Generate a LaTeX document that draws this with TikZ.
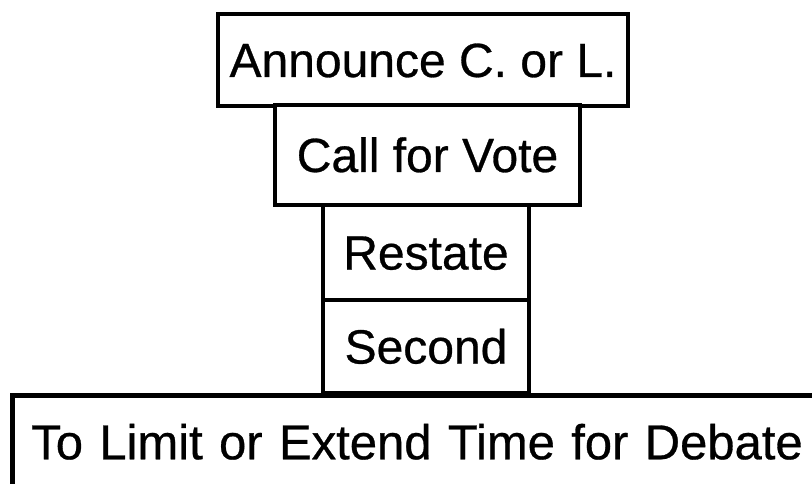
\documentclass[tikz,border=0pt]{standalone}
\usepackage{fontspec}
\setmainfont{Liberation Sans}
\newfontfamily\scanfont{Liberation Sans}[FakeBold=0.6]
\begin{document}
\begin{tikzpicture}[x=1pt,y=-1pt,
  stepbox/.style={draw=black, line width=4.5pt, fill=white, inner sep=0pt,
    font=\scanfont\fontsize{48}{58}\selectfont, text height=34pt, text depth=0pt}]
\useasboundingbox[fill=white] (0,0) rectangle (812,484);
\node[stepbox, minimum width=410pt, minimum height=92pt] (announce) at (423,60) {Announce C. or L.};
\node[stepbox, minimum width=305pt, minimum height=100pt] (vote) at (427.5,155) {Call for Vote};
\node[stepbox, minimum width=206pt, minimum height=95pt] (restate) at (426,252.5) {Restate};
\node[stepbox, minimum width=206pt, minimum height=93pt] (second) at (426,346.5) {Second};
\node[stepbox, anchor=north west, minimum height=94pt, text width=800pt, align=left,
  inner xsep=19pt, font=\scanfont\fontsize{49}{59}\selectfont] (motion) at (10,393) {To Limit or Extend Time for Debate};
\end{tikzpicture}
\end{document}
